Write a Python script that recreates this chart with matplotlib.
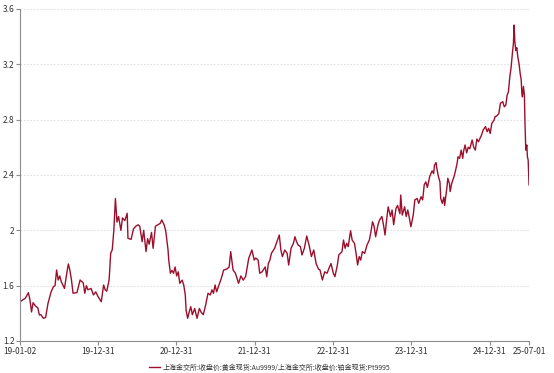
import pandas as pd
import matplotlib
matplotlib.use("Agg")
import matplotlib.pyplot as plt
import matplotlib.dates as mdates

plt.rcParams['font.family'] = ['Noto Sans CJK SC', 'DejaVu Sans']

# 日期（小数年）与比值：黄金Au9999 / 铂金Pt9995
years = [
    2019.003, 2019.02, 2019.07, 2019.11, 2019.13, 2019.15, 2019.17, 2019.20, 2019.23, 2019.25,
    2019.27, 2019.30, 2019.33, 2019.36, 2019.40, 2019.43, 2019.45, 2019.47, 2019.49, 2019.51,
    2019.53, 2019.57, 2019.60, 2019.62, 2019.64, 2019.66, 2019.68, 2019.73, 2019.77, 2019.81,
    2019.83, 2019.85, 2019.87, 2019.91, 2019.94, 2019.97, 2020.00, 2020.04, 2020.07, 2020.09,
    2020.11, 2020.14, 2020.16, 2020.18, 2020.20, 2020.22, 2020.24, 2020.26, 2020.29, 2020.31,
    2020.34, 2020.37, 2020.38, 2020.42, 2020.45, 2020.48, 2020.51, 2020.53, 2020.56, 2020.58,
    2020.61, 2020.63, 2020.65, 2020.68, 2020.70, 2020.73, 2020.76, 2020.79, 2020.81, 2020.84,
    2020.86, 2020.89, 2020.90, 2020.92, 2020.94, 2020.96, 2020.98, 2021.00, 2021.02, 2021.04,
    2021.07, 2021.09, 2021.11, 2021.12, 2021.14, 2021.16, 2021.18, 2021.20, 2021.23, 2021.26,
    2021.29, 2021.31, 2021.34, 2021.37, 2021.40, 2021.43, 2021.45, 2021.47, 2021.49, 2021.51,
    2021.54, 2021.57, 2021.60, 2021.64, 2021.67, 2021.69, 2021.72, 2021.75, 2021.79, 2021.82,
    2021.85, 2021.88, 2021.92, 2021.96, 2021.99, 2022.01, 2022.04, 2022.06, 2022.09, 2022.13,
    2022.15, 2022.17, 2022.19, 2022.21, 2022.25, 2022.28, 2022.31, 2022.33, 2022.35, 2022.38,
    2022.41, 2022.43, 2022.46, 2022.49, 2022.51, 2022.53, 2022.55, 2022.58, 2022.60, 2022.63,
    2022.66, 2022.69, 2022.72, 2022.75, 2022.78, 2022.81, 2022.83, 2022.86, 2022.89, 2022.92,
    2022.94, 2022.97, 2023.00, 2023.02, 2023.05, 2023.07, 2023.11, 2023.13, 2023.15, 2023.17,
    2023.19, 2023.22, 2023.24, 2023.27, 2023.29, 2023.31, 2023.33, 2023.35, 2023.37, 2023.40,
    2023.43, 2023.46, 2023.48, 2023.50, 2023.52, 2023.54, 2023.57, 2023.59, 2023.62, 2023.64,
    2023.66, 2023.68, 2023.70, 2023.73, 2023.75, 2023.77, 2023.80, 2023.82, 2023.85, 2023.86,
    2023.88, 2023.91, 2023.93, 2023.95, 2023.97, 2023.99, 2024.02, 2024.04, 2024.07, 2024.09,
    2024.12, 2024.14, 2024.16, 2024.18, 2024.20, 2024.23, 2024.26, 2024.28, 2024.29, 2024.31,
    2024.32, 2024.34, 2024.36, 2024.37, 2024.39, 2024.41, 2024.42, 2024.45, 2024.46, 2024.48,
    2024.49, 2024.51, 2024.54, 2024.56, 2024.58, 2024.59, 2024.61, 2024.63, 2024.65, 2024.66,
    2024.68, 2024.70, 2024.72, 2024.74, 2024.77, 2024.79, 2024.81, 2024.83, 2024.85, 2024.88,
    2024.89, 2024.91, 2024.94, 2024.96, 2024.98, 2025.00, 2025.02, 2025.05, 2025.06, 2025.09,
    2025.11, 2025.13, 2025.16, 2025.18, 2025.199, 2025.216, 2025.232, 2025.250, 2025.267, 2025.283,
    2025.296, 2025.305, 2025.314, 2025.327, 2025.339, 2025.352, 2025.369, 2025.382, 2025.395, 2025.404,
    2025.411, 2025.424, 2025.436, 2025.445, 2025.454, 2025.467, 2025.475, 2025.484, 2025.490, 2025.496,
]
ratio = [
    1.484, 1.49, 1.509, 1.549, 1.496, 1.41, 1.477, 1.453, 1.44, 1.388,
    1.39, 1.364, 1.37, 1.472, 1.556, 1.593, 1.60, 1.713, 1.641, 1.67,
    1.629, 1.58, 1.69, 1.757, 1.71, 1.64, 1.545, 1.55, 1.641, 1.62,
    1.545, 1.60, 1.57, 1.58, 1.533, 1.555, 1.52, 1.484, 1.605, 1.57,
    1.56, 1.641, 1.834, 1.86, 2.0, 2.23, 2.06, 2.10, 2.0, 2.09,
    2.07, 2.123, 1.942, 1.935, 2.01, 2.03, 2.04, 2.03, 1.918, 2.0,
    1.846, 1.94, 1.90, 1.985, 1.87, 2.03, 2.04, 2.05, 2.075, 2.04,
    2.0, 1.858, 1.78, 1.69, 1.71, 1.69, 1.735, 1.67, 1.70, 1.617,
    1.64, 1.605, 1.533, 1.424, 1.364, 1.41, 1.448, 1.39, 1.435, 1.364,
    1.435, 1.41, 1.39, 1.46, 1.545, 1.533, 1.57, 1.545, 1.605, 1.556,
    1.605, 1.653, 1.713, 1.72, 1.735, 1.846, 1.713, 1.69, 1.617, 1.67,
    1.64, 1.665, 1.798, 1.858, 1.785, 1.80, 1.785, 1.69, 1.70, 1.735,
    1.665, 1.76, 1.785, 1.834, 1.87, 1.918, 1.966, 1.858, 1.81, 1.858,
    1.834, 1.749, 1.87, 1.906, 1.954, 1.918, 1.894, 1.882, 1.822, 1.87,
    1.959, 1.894, 1.81, 1.858, 1.76, 1.72, 1.713, 1.641, 1.70, 1.69,
    1.72, 1.76, 1.69, 1.665, 1.745, 1.822, 1.846, 1.93, 1.87, 1.906,
    1.882, 1.997, 1.93, 1.906, 1.834, 1.749, 1.81, 1.785, 1.846, 1.834,
    1.894, 1.93, 1.99, 2.062, 2.03, 1.954, 2.04, 2.075, 2.10, 2.04,
    1.966, 2.075, 2.17, 2.10, 2.147, 2.04, 2.159, 2.18, 2.12, 2.255,
    2.11, 2.17, 2.10, 2.147, 2.09, 2.026, 2.11, 2.22, 2.23, 2.195,
    2.243, 2.22, 2.33, 2.35, 2.31, 2.39, 2.43, 2.41, 2.47, 2.49,
    2.45, 2.39, 2.35, 2.23, 2.195, 2.24, 2.18, 2.316, 2.376, 2.34,
    2.28, 2.34, 2.39, 2.436, 2.49, 2.532, 2.52, 2.58, 2.52, 2.57,
    2.617, 2.56, 2.60, 2.59, 2.653, 2.60, 2.58, 2.66, 2.64, 2.677,
    2.69, 2.725, 2.75, 2.713, 2.737, 2.70, 2.773, 2.797, 2.82, 2.83,
    2.845, 2.918, 2.93, 2.893, 2.905, 2.978, 3.0, 3.11, 3.18, 3.28,
    3.35, 3.484, 3.365, 3.30, 3.32, 3.255, 3.20, 3.135, 3.09, 2.99,
    2.965, 3.04, 2.978, 2.75, 2.58, 2.617, 2.53, 2.51, 2.41, 2.328,
]

tick_dates = ['2019-01-02', '2019-12-31', '2020-12-31', '2021-12-31',
              '2022-12-31', '2023-12-31', '2024-12-31', '2025-07-01']
series_name = '上海金交所:收盘价:黄金现货:Au9999/上海金交所:收盘价:铂金现货:Pt9995'


def to_date(y):
    yr = int(y)
    start = pd.Timestamp(year=yr, month=1, day=1)
    length = (pd.Timestamp(year=yr + 1, month=1, day=1) - start).days
    return start + pd.Timedelta(days=(y - yr) * length)


dates = [to_date(y) for y in years]
dates[0] = pd.Timestamp(tick_dates[0])
dates[-1] = pd.Timestamp(tick_dates[-1])

fig = plt.figure(figsize=(5.54, 3.73), dpi=100)
ax = fig.add_axes([0.0361, 0.0858, 0.9189, 0.8901])

ax.plot(dates, ratio, color='#9c0f2c', lw=1.0, label=series_name)

ax.set_xlim(pd.Timestamp(tick_dates[0]), pd.Timestamp(tick_dates[-1]))
ax.set_ylim(1.2, 3.6)
ax.set_yticks([1.2, 1.6, 2.0, 2.4, 2.8, 3.2, 3.6])
ax.set_yticklabels(['1.2', '1.6', '2', '2.4', '2.8', '3.2', '3.6'])
ax.set_xticks([pd.Timestamp(d) for d in tick_dates])
ax.xaxis.set_major_formatter(mdates.DateFormatter('%y-%m-%d'))

ax.grid(axis='y', color='#d9d9d9', ls=(0, (2, 2)), lw=0.6)
ax.set_axisbelow(True)
for s in ['top', 'right']:
    ax.spines[s].set_visible(False)
for s in ['left', 'bottom']:
    ax.spines[s].set_color('#8c8c8c')
    ax.spines[s].set_linewidth(0.8)
ax.tick_params(axis='both', labelsize=6, colors='#8c8c8c', labelcolor='#333333',
               length=3, width=0.8, pad=1)

ax.legend(loc='upper center', bbox_to_anchor=(0.49, -0.05), frameon=False,
          fontsize=5, handlelength=1.6, handletextpad=0.4, labelcolor='#333333')

plt.savefig('out.png', dpi=100)
